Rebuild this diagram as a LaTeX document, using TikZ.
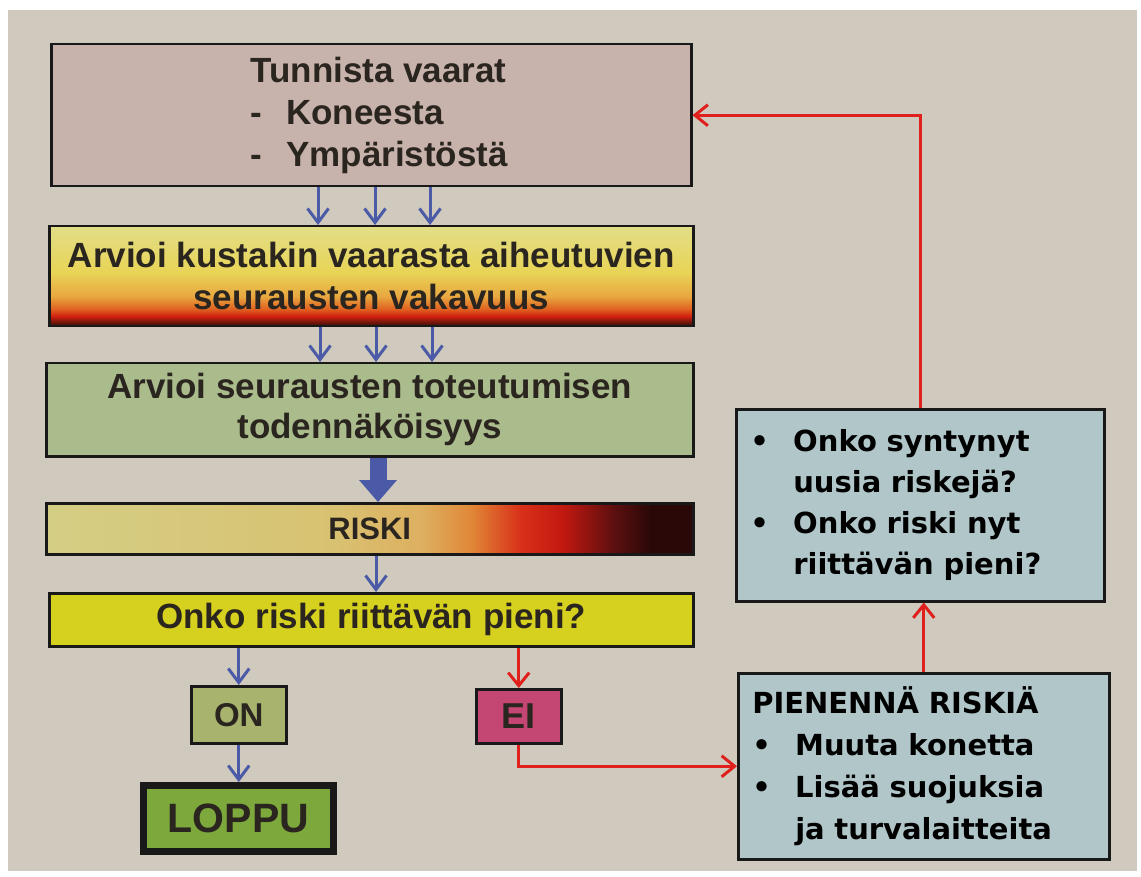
\documentclass[tikz,border=0pt]{standalone}
\usepackage{fontspec}
\setmainfont{Liberation Sans}
\newfontfamily\widefont{DejaVu Sans}
\usetikzlibrary{arrows.meta,calc}
\definecolor{paper}{HTML}{D0CABE}
\definecolor{textdark}{HTML}{2B2520}
\definecolor{boxpink}{HTML}{C7B3AB}
\definecolor{boxsage}{HTML}{AABC8C}
\definecolor{boxyellow}{HTML}{D6D01E}
\definecolor{boxon}{HTML}{A8B46E}
\definecolor{boxei}{HTML}{C44672}
\definecolor{boxloppu}{HTML}{7CA83C}
\definecolor{boxblue}{HTML}{B0C6C8}
\definecolor{arrowblue}{HTML}{4A5AA6}
\definecolor{linered}{HTML}{E0201C}
\definecolor{sevdark}{HTML}{301008}
\definecolor{sevred}{HTML}{D02010}
\definecolor{sevorange}{HTML}{E06020}
\definecolor{sevamber}{HTML}{E8A840}
\definecolor{sevyellow}{HTML}{E8D456}
\definecolor{sevlight}{HTML}{E2DE88}
\definecolor{rka}{HTML}{D4CE84}
\definecolor{rkb}{HTML}{D8C272}
\definecolor{rkc}{HTML}{DDB060}
\definecolor{rkd}{HTML}{E08838}
\definecolor{rke}{HTML}{D83018}
\definecolor{rkf}{HTML}{C01810}
\definecolor{rkg}{HTML}{601010}
\definecolor{rkh}{HTML}{2A0808}
\pgfdeclareverticalshading{sevshade}{100bp}{color(0bp)=(sevdark); color(25bp)=(sevdark); color(30bp)=(sevred); color(33.5bp)=(sevorange); color(40bp)=(sevamber); color(52bp)=(sevyellow); color(75bp)=(sevlight); color(100bp)=(sevlight)}
\pgfdeclarehorizontalshading{riskshade}{100bp}{color(0bp)=(rka); color(25bp)=(rka); color(47bp)=(rkb); color(54bp)=(rkc); color(57.8bp)=(rkd); color(61.7bp)=(rke); color(65bp)=(rkf); color(68.7bp)=(rkg); color(71.7bp)=(rkh); color(100bp)=(rkh)}
\tikzset{
  box/.style={draw=black!90, line width=2.5pt, inner sep=0pt, anchor=north west, text=textdark,
    font=\bfseries\fontsize{35}{42}\selectfont, align=center},
  rbox/.style={draw=black!90, line width=2.5pt, fill=boxblue, anchor=north west, inner xsep=14pt, inner ysep=0pt,
    text=black, font=\widefont\bfseries\fontsize{29}{41}\selectfont, align=left},
  barrow/.style={draw=arrowblue, line width=3pt, -{Straight Barb[length=14pt,width=21pt]}},
  rarrow/.style={draw=linered, line width=3pt, -{Straight Barb[length=13pt,width=21pt]}},
}
\newcommand{\bul}{\makebox[43pt][l]{•}}
\begin{document}
\begin{tikzpicture}[x=1pt,y=-1pt]
\useasboundingbox (0,0) rectangle (1141,877);
\fill[white] (0,0) rectangle (1141,877);
\fill[paper] (8,10) rectangle (1137,871);

\node[box, fill=boxpink, minimum width=640pt, minimum height=142pt, align=left] (b1) at (50,43)
  {\hspace*{16pt}Tunnista vaarat\\\hspace*{16pt}-\hspace{24pt}Koneesta\\\hspace*{16pt}-\hspace{24pt}Ympäristöstä};
\node[box, shading=sevshade, minimum width=644pt, minimum height=100pt] (b2) at (48,225)
  {Arvioi kustakin vaarasta aiheutuvien\\seurausten vakavuus};
\node[box, fill=boxsage, minimum width=647pt, minimum height=93pt, font=\bfseries\fontsize{35}{40}\selectfont] (b3) at (45,362)
  {Arvioi seurausten toteutumisen\\todennäköisyys};
\node[box, shading=riskshade, minimum width=647pt, minimum height=51pt, font=\bfseries\fontsize{31}{36}\selectfont] (b4) at (45,502) {RISKI};
\node[box, fill=boxyellow, minimum width=644pt, minimum height=53pt] (b5) at (48,592) {Onko riski riittävän pieni?};
\node[box, fill=boxon, minimum width=95pt, minimum height=57pt, font=\bfseries\fontsize{33}{36}\selectfont] (on) at (190,685) {ON};
\node[box, fill=boxei, minimum width=85pt, minimum height=54pt, font=\bfseries\fontsize{36}{38}\selectfont] (ei) at (475,688) {EI};
\node[box, fill=boxloppu, line width=7pt, minimum width=190pt, minimum height=66pt, font=\bfseries\fontsize{41}{44}\selectfont] (loppu) at (140,782) {LOPPU};

\node[rbox, text width=340pt, minimum height=192pt] (onko) at (735,408)
  {\bul Onko syntynyt\\\hspace*{43pt}uusia riskejä?\\\bul Onko riski nyt\\\hspace*{43pt}riittävän pieni?};
\node[rbox, text width=343pt, minimum height=186pt, font=\widefont\bfseries\fontsize{29}{42}\selectfont] (pien) at (737,672)
  {PIENENNÄ RISKIÄ\\\bul Muuta konetta\\\bul Lisää suojuksia\\\hspace*{43pt}ja turvalaitteita};

\foreach \xx in {318,375,430} {
  \draw[barrow] (\xx,0 |- b1.south) -- (\xx,0 |- b2.north);
}
\foreach \xx in {320,376,432} {
  \draw[barrow] (\xx,0 |- b2.south) -- (\xx,0 |- b3.north);
}
\draw[arrowblue, line width=17pt, -{Triangle[length=22pt,width=38pt,line width=0pt]}]
  (378,0 |- b3.south) -- (378,0 |- b4.north);
\draw[barrow] (376,0 |- b4.south) -- (376,0 |- b5.north);
\draw[barrow] (on.north |- b5.south) -- (on.north);
\draw[rarrow] (ei.north |- b5.south) -- (ei.north);
\draw[barrow] (on.south) -- (on.south |- loppu.north);
\draw[rarrow] (ei.south) |- (pien.west);
\draw[rarrow] (pien.north) -- (pien.north |- onko.south);
\draw[rarrow] (onko.north) |- (b1.east);
\end{tikzpicture}
\end{document}
